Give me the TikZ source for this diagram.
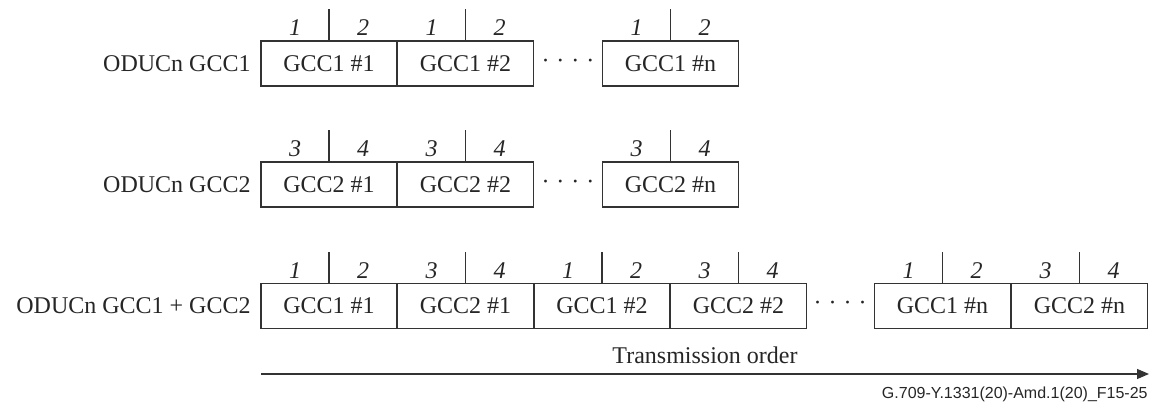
\documentclass[tikz,border=0pt]{standalone}
\usepackage{fontspec}
\setmainfont{Liberation Serif}
\newfontfamily\footfont{Liberation Sans}
\usetikzlibrary{arrows.meta}

\begin{document}
\begin{tikzpicture}[
	x=0.5pt, y=-0.5pt,
	font=\fontsize{12}{14}\selectfont,
	b/.style = {rectangle, draw=black!80, line width=0.6pt, minimum width=68pt, minimum height=22.5pt, inner sep=0pt, text=black!85},
	num/.style = {font=\fontsize{12}{14}\selectfont\itshape, text=black!85, inner sep=1pt},
	p12/.style = {b, label={[num, xshift=-17pt, yshift=1pt]above:1}, label={[num, xshift=17pt, yshift=1pt]above:2}},
	p34/.style = {b, label={[num, xshift=-17pt, yshift=1pt]above:3}, label={[num, xshift=17pt, yshift=1pt]above:4}},
	t/.style = {draw=black!80, line width=0.6pt},
	dots/.style = {text=black!85, inner sep=0pt},
	lbl/.style = {anchor=east, text=black!85, inner sep=0pt}
	]
	\useasboundingbox (0,0) rectangle (1151,410);

	%Nodes
	\node[lbl]	(L1)	at	(251, 64)		{ODUCn GCC1};
	\node[p12]	(A1)	at	(329, 63.5)		{GCC1 \#1};
	\node[p12]	(A2)	at	(465.5, 63.5)	{GCC1 \#2};
	\node[dots]	(Ad)	at	(568, 63.5)		{·\hspace{3.5pt}·\hspace{3.5pt}·\hspace{3.5pt}·};
	\node[p12]	(An)	at	(670.5, 63.5)	{GCC1 \#n};

	\node[lbl]	(L2)	at	(251, 185)		{ODUCn GCC2};
	\node[p34]	(B1)	at	(329, 184.5)	{GCC2 \#1};
	\node[p34]	(B2)	at	(465.5, 184.5)	{GCC2 \#2};
	\node[dots]	(Bd)	at	(568, 184.5)	{·\hspace{3.5pt}·\hspace{3.5pt}·\hspace{3.5pt}·};
	\node[p34]	(Bn)	at	(670.5, 184.5)	{GCC2 \#n};

	\node[lbl]	(L3)	at	(251, 306)		{ODUCn GCC1 + GCC2};
	\node[p12]	(C1)	at	(329, 306)		{GCC1 \#1};
	\node[p34]	(C2)	at	(465.5, 306)	{GCC2 \#1};
	\node[p12]	(C3)	at	(602, 306)		{GCC1 \#2};
	\node[p34]	(C4)	at	(738.5, 306)	{GCC2 \#2};
	\node[dots]	(Cd)	at	(840, 306)		{·\hspace{3.5pt}·\hspace{3.5pt}·\hspace{3.5pt}·};
	\node[p12]	(Cn1)	at	(942.5, 306)	{GCC1 \#n};
	\node[p34]	(Cn2)	at	(1079.5, 306)	{GCC2 \#n};

	\coordinate	(ts)	at	(261, 374);
	\coordinate	(te)	at	(1149, 374);
	\node[anchor=east, inner sep=0pt, text=black!85, font=\footfont\fontsize{8}{10}\selectfont]	(fig)	at	(1148, 394)	{G.709-Y.1331(20)-Amd.1(20)\_F15-25};

	%Lines
	\draw[t]	(A1.north)	--	++(0,-31);
	\draw[t]	(A2.north)	--	++(0,-31);
	\draw[t]	(An.north)	--	++(0,-31);
	\draw[t]	(B1.north)	--	++(0,-31);
	\draw[t]	(B2.north)	--	++(0,-31);
	\draw[t]	(Bn.north)	--	++(0,-31);
	\draw[t]	(C1.north)	--	++(0,-31);
	\draw[t]	(C2.north)	--	++(0,-31);
	\draw[t]	(C3.north)	--	++(0,-31);
	\draw[t]	(C4.north)	--	++(0,-31);
	\draw[t]	(Cn1.north)	--	++(0,-31);
	\draw[t]	(Cn2.north)	--	++(0,-31);
	\draw[t, -{Triangle[length=6pt, width=5pt]}]	(ts)	--	node[above=4pt, text=black!85, inner sep=1pt]	{Transmission order}	(te);
\end{tikzpicture}
\end{document}
